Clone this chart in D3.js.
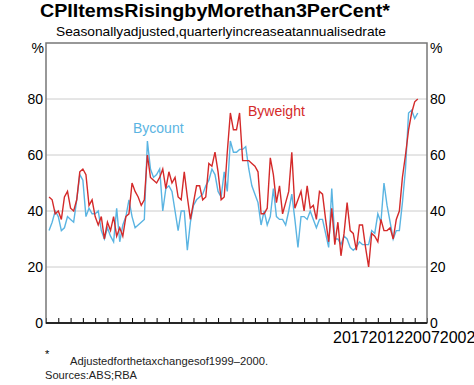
<!DOCTYPE html>
<head>
    <meta charset="utf-8" />
    <script src="https://d3js.org/d3.v7.min.js"></script>
    <style>
        body { margin: 0; background: #fff; font-family: "Liberation Sans", Arial, sans-serif; }
        svg { display: block; }
    </style>
</head>
<body>
<svg width="474" height="385"></svg>
<script>
    // quarterly, 1992 Q2 onwards
    let firstQuarter = 1992.25;

    let byWeight = [
        45, 44, 39, 40, 37, 45, 47, 41, 40, 44,
        54, 55, 53, 42, 44, 38, 35, 38, 30, 36,
        33, 38, 31, 34, 31, 38, 39, 50, 47, 45,
        42, 44, 60, 52, 51, 50, 52, 55, 48, 54,
        50, 52, 45, 44, 54, 45, 37, 43, 49, 49,
        44, 45, 57, 56, 61, 54, 44, 45, 61, 75,
        69, 69, 75, 58, 58, 58, 57, 56, 54, 39,
        39, 41, 59, 53, 43, 49, 39, 43, 47, 61,
        41, 44, 47, 40, 49, 41, 42, 37, 47, 46,
        37, 29, 41, 28, 36, 24, 32, 43, 33, 32,
        26, 35, 35, 27, 20, 32, 31, 29, 37, 33,
        33, 34, 30, 37, 40, 52, 60, 69, 75, 79, 80
    ];

    let byCount = [
        33, 36, 40, 38, 33, 34, 38, 37, 36, 44,
        53, 51, 38, 41, 39, 39, 40, 33, 30, 34,
        31, 29, 41, 29, 35, 38, 44, 38, 34, 35,
        36, 37, 65, 55, 52, 53, 55, 40, 48, 49,
        47, 40, 33, 40, 40, 26, 36, 42, 44, 45,
        46, 49, 51, 55, 53, 47, 45, 54, 47, 65,
        61, 61, 62, 62, 63, 55, 49, 46, 43, 35,
        40, 35, 38, 48, 38, 37, 37, 35, 40, 46,
        37, 27, 38, 38, 37, 40, 37, 34, 37, 37,
        32, 27, 48, 30, 30, 28, 31, 30, 27, 26,
        27, 29, 28, 28, 28, 33, 32, 39, 36, 50,
        42, 36, 30, 33, 33, 43, 55, 75, 76, 73, 75
    ];

    let yTicks = [0, 20, 40, 60, 80];
    let yearTicks = d3.range(1992, 2024);
    let xLabels = ["2017", "2012", "2007", "2002", "1997", "1992"];

    let blue = "#5ab4e2";
    let red = "#d42a2a";

    let svg = d3.select("svg");
    let plotL = 46, plotR = 427, plotT = 43, plotB = 323;

    let x = d3.scaleLinear().domain([1992, 2023]).range([plotL, plotR]);
    let y = d3.scaleLinear().domain([0, 100]).range([plotB, plotT]);

    // title
    svg.append("text").attr("x", 40).attr("y", 17)
        .attr("font-size", 18).attr("font-weight", "bold")
        .attr("textLength", 350).attr("lengthAdjust", "spacingAndGlyphs")
        .text("CPIItemsRisingbyMorethan3PerCent*");
    svg.append("text").attr("x", 56).attr("y", 36)
        .attr("font-size", 13.5)
        .attr("textLength", 330).attr("lengthAdjust", "spacingAndGlyphs")
        .text("Seasonallyadjusted,quarterlyincreaseatannualisedrate");

    // gridlines
    svg.append("g").selectAll("line")
        .data(yTicks.filter(d => d > 0))
        .join("line")
        .attr("x1", plotL).attr("x2", plotR)
        .attr("y1", d => y(d)).attr("y2", d => y(d))
        .attr("stroke", "#cccccc").attr("stroke-width", 1);

    // year ticks along the bottom, pointing up
    let xAxis = svg.append("g").attr("transform", `translate(0,${plotB})`)
        .call(d3.axisBottom(x).tickValues(yearTicks).tickSize(-5).tickFormat(""));
    xAxis.select(".domain").remove();
    xAxis.selectAll("line").attr("stroke", "#000");

    // y labels both sides
    let yl = svg.append("g").attr("transform", `translate(${plotL - 3},0)`)
        .call(d3.axisLeft(y).tickValues(yTicks).tickSize(0).tickPadding(0));
    let yr = svg.append("g").attr("transform", `translate(${plotR + 3},0)`)
        .call(d3.axisRight(y).tickValues(yTicks).tickSize(0).tickPadding(0));
    [yl, yr].forEach(g => {
        g.select(".domain").remove();
        g.selectAll("text").attr("font-size", 14)
            .attr("font-family", "Liberation Sans, Arial, sans-serif").attr("fill", "#000");
    });

    svg.append("text").attr("x", 44).attr("y", 53).attr("text-anchor", "end")
        .attr("font-size", 14).text("%");
    svg.append("text").attr("x", 430).attr("y", 53)
        .attr("font-size", 14).text("%");

    // lines
    let line = d3.line()
        .x((d, i) => x(firstQuarter + i * 0.25))
        .y(d => y(d));

    svg.append("path").datum(byCount)
        .attr("d", line).attr("fill", "none")
        .attr("stroke", blue).attr("stroke-width", 1.4);
    svg.append("path").datum(byWeight)
        .attr("d", line).attr("fill", "none")
        .attr("stroke", red).attr("stroke-width", 1.4);

    svg.append("text").attr("x", 133).attr("y", 133)
        .attr("font-size", 14).attr("fill", blue).text("Bycount");
    svg.append("text").attr("x", 248).attr("y", 116)
        .attr("font-size", 14).attr("fill", red).text("Byweight");

    // frame
    svg.append("rect").attr("x", plotL).attr("y", plotT)
        .attr("width", plotR - plotL).attr("height", plotB - plotT)
        .attr("fill", "none").attr("stroke", "#777").attr("stroke-width", 1.5);
    svg.append("line").attr("x1", plotL).attr("x2", plotR)
        .attr("y1", plotB).attr("y2", plotB)
        .attr("stroke", "#000").attr("stroke-width", 1.5);

    // year labels, run together as in the original
    svg.append("text").attr("x", 333).attr("y", 343)
        .attr("font-size", 16).text(xLabels.join(""));

    // notes
    svg.append("text").attr("x", 45).attr("y", 358)
        .attr("font-size", 11).text("*");
    svg.append("text").attr("x", 70).attr("y", 365)
        .attr("font-size", 11).attr("fill", "#222")
        .attr("textLength", 198).attr("lengthAdjust", "spacingAndGlyphs")
        .text("Adjustedforthetaxchangesof1999–2000.");
    svg.append("text").attr("x", 45).attr("y", 379)
        .attr("font-size", 11).attr("fill", "#222")
        .attr("textLength", 92).attr("lengthAdjust", "spacingAndGlyphs")
        .text("Sources:ABS;RBA");
</script>
</body>
